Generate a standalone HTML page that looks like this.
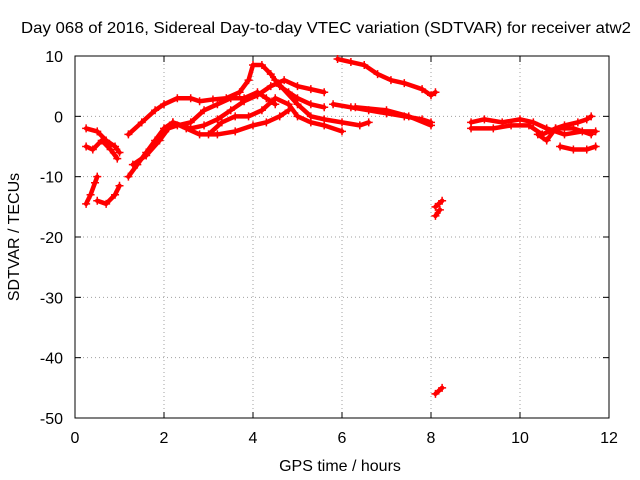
<!DOCTYPE html>
<html><head><meta charset="utf-8"><style>
body{margin:0;background:#fff}
svg{display:block;font-family:"Liberation Sans",sans-serif;font-size:16px}
</style></head><body>
<svg id="chart" width="640" height="480" viewBox="0 0 640 480">
<rect width="640" height="480" fill="#fff"/>
<text x="326" y="33" text-anchor="middle" textLength="610" lengthAdjust="spacingAndGlyphs">Day 068 of 2016, Sidereal Day-to-day VTEC variation (SDTVAR) for receiver atw2</text>
<g id="grid"></g><g id="axes"></g><g id="series"></g>
<text x="340" y="471" text-anchor="middle">GPS time / hours</text>
<text transform="translate(19,237) rotate(-90)" text-anchor="middle">SDTVAR / TECUs</text>
</svg>
<script>
const xTicks=[0,2,4,6,8,10,12];
const yTicks=[10,0,-10,-20,-30,-40,-50];
const tracks=[
[[0.25,-2],[0.5,-2.5],[0.7,-4],[0.9,-5],[1.0,-6]],
[[0.25,-5],[0.4,-5.5],[0.6,-4],[0.8,-5.5],[0.95,-7]],
[[0.25,-14.5],[0.35,-13],[0.45,-11],[0.5,-10]],
[[0.5,-14],[0.7,-14.5],[0.9,-13],[1.0,-11.5]],
[[1.2,-3],[1.5,-1],[1.8,1],[2.0,2],[2.3,3],[2.6,3],[2.8,2.5],[3.1,2.8],[3.4,3],[3.7,4],[3.9,6],[4.0,8.5],[4.2,8.5],[4.4,7],[4.6,5],[4.8,4],[5.0,3],[5.3,2],[5.6,1.5]],
[[1.2,-10],[1.4,-8],[1.6,-6],[1.8,-4],[2.0,-2],[2.2,-1],[2.5,-2],[2.8,-3],[3.2,-3],[3.6,-2.5],[4.0,-1.5],[4.3,-1],[4.6,0],[4.8,1]],
[[1.3,-8],[1.6,-6.5],[1.9,-4],[2.1,-2],[2.3,-1.5],[2.6,-1],[2.9,1],[3.2,2],[3.5,3],[3.8,3],[4.1,4],[4.3,3],[4.5,2]],
[[2.2,-1],[2.6,-2],[2.9,-1.5],[3.2,-0.5],[3.5,1],[3.8,2.5],[4.1,3.5],[4.4,5],[4.7,6],[5.0,5],[5.3,4.5],[5.6,4]],
[[3.0,-3],[3.3,-1],[3.6,0],[3.9,0],[4.2,1],[4.5,3],[4.8,2],[5.0,0],[5.3,-1],[5.6,-1.5],[6.0,-2.5]],
[[4.5,6],[5.0,2],[5.3,0],[5.6,-0.5],[6.0,-1],[6.4,-1.5],[6.6,-1]],
[[5.8,2],[6.2,1.5],[6.6,1],[7.0,0.5],[7.4,0],[7.8,-0.5],[8.0,-1]],
[[5.9,9.5],[6.2,9],[6.5,8.5],[6.8,7],[7.1,6],[7.4,5.5],[7.8,4.5],[8.0,3.5],[8.1,4]],
[[6.3,1.5],[7.0,1],[7.5,0],[8.0,-1.5]],
[[8.1,-15],[8.25,-14]],
[[8.1,-16.5],[8.2,-15.5]],
[[8.1,-46],[8.25,-45]],
[[8.9,-1],[9.2,-0.5],[9.6,-1],[10,-0.5],[10.3,-1],[10.6,-2],[11.0,-3],[11.4,-2.5],[11.7,-2.5]],
[[8.9,-2],[9.4,-2],[9.8,-1.5],[10.2,-1.5],[10.5,-3],[10.8,-2],[11.2,-2],[11.6,-3]],
[[10.4,-3],[10.6,-4],[10.8,-2],[11.0,-1.5],[11.3,-1],[11.5,-0.5],[11.6,0]],
[[10.9,-5],[11.2,-5.5],[11.5,-5.5],[11.7,-5]]
];
const L=75,R=609,T=56,B=418;
const sx=v=>L+(v-0)/(12-0)*(R-L);
const sy=v=>B-(v+50)/(10+50)*(B-T);
const NS="http://www.w3.org/2000/svg";
function mk(tag,attrs,parent){const e=document.createElementNS(NS,tag);for(const k in attrs)e.setAttribute(k,attrs[k]);parent.appendChild(e);return e;}
const grid=document.getElementById('grid'),axes=document.getElementById('axes'),ser=document.getElementById('series');
xTicks.forEach(t=>{const x=sx(t);
 if(t>0&&t<12){const g=mk('line',{x1:x,x2:x,y1:T,y2:B,stroke:'#a0a0a0','stroke-dasharray':'1,3'},grid);
 
 }
 mk('line',{x1:x,x2:x,y1:B,y2:B-6,stroke:'#000'},axes);mk('line',{x1:x,x2:x,y1:T,y2:T+6,stroke:'#000'},axes);
 const tx=mk('text',{x:x,y:B+25,'text-anchor':'middle'},axes);tx.textContent=t;
 
 
});
yTicks.forEach(t=>{const y=sy(t);
 if(t<10&&t>-50){const g=mk('line',{x1:L,x2:R,y1:y,y2:y,stroke:'#a0a0a0','stroke-dasharray':'1,3'},grid);
 
 }
 mk('line',{x1:L,x2:L+6,y1:y,y2:y,stroke:'#000'},axes);mk('line',{x1:R,x2:R-6,y1:y,y2:y,stroke:'#000'},axes);
 const tx=mk('text',{x:L-12,y:y+6,'text-anchor':'end'},axes);tx.textContent=t;
 
 
});
const fr=mk('rect',{x:L,y:T,width:R-L,height:B-T,fill:'none',stroke:'#000'},axes);


tracks.forEach(tr=>{
 const g=mk('g',{},ser);
 
 
 mk('polyline',{points:tr.map(p=>sx(p[0])+','+sy(p[1])).join(' '),fill:'none',stroke:'#f00','stroke-width':4.5,'stroke-linejoin':'round','stroke-linecap':'round'},g);
 tr.forEach(p=>{const x=sx(p[0]),y=sy(p[1]);
  mk('path',{d:`M${x-4},${y}H${x+4}M${x},${y-4}V${y+4}`,stroke:'#f00','stroke-width':1.5},g);});
});
</script>
</body></html>
